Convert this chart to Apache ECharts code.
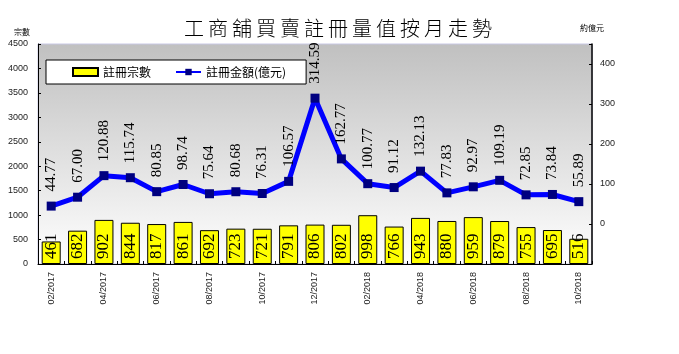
<!DOCTYPE html>
<html>
<head>
<meta charset="utf-8">
<script src="https://cdn.jsdelivr.net/npm/echarts@6/dist/echarts.min.js"></script>
<style>
  html,body{margin:0;padding:0;background:#fff;}
  #chart{width:679px;height:354px;}
</style>
</head>
<body>
<div id="chart"></div>
<script>
// months shown on the x axis
var months = ['02/2017','03/2017','04/2017','05/2017','06/2017','07/2017','08/2017','09/2017','10/2017','11/2017','12/2017','01/2018',
              '02/2018','03/2018','04/2018','05/2018','06/2018','07/2018','08/2018','09/2018','10/2018'];
// 註冊宗數 (bars, left axis)
var regCount = [461,682,902,844,817,861,692,723,721,791,806,802,998,766,943,880,959,879,755,695,516];
// 註冊金額(億元) (line, right axis)
var regAmount = [44.77,67.00,120.88,115.74,80.85,98.74,75.64,80.68,76.31,106.57,314.59,162.77,100.77,91.12,132.13,77.83,92.97,109.19,72.85,73.84,55.89];

var titleText = '工商舖買賣註冊量值按月走勢';

var myChart = echarts.init(document.getElementById('chart'));

var numFont = '"Liberation Serif","Times New Roman",serif';
var axisFont = '"Liberation Sans",Tahoma,sans-serif';
var cjkFont = '"Noto Sans CJK TC",sans-serif';

// spread the title characters a bit, like the original
var titleRich = titleText.split('').map(function(c){ return '{c|'+c+'}'; }).join('');

var option = {
    animation:false,
    backgroundColor:'#fff',
    title:{
        text:titleRich,
        left:333, top:13, textAlign:'center',
        textStyle:{
            rich:{c:{fontSize:20,fontWeight:300,color:'#000',fontFamily:cjkFont,padding:[0,2,0,2]}}
        }
    },
    legend:{
        left:46, top:60,
        padding:[6,20,6,26],
        itemGap:24,
        itemWidth:25, itemHeight:8,
        backgroundColor:'#fff', borderColor:'#000', borderWidth:1,
        textStyle:{fontSize:12,color:'#000',fontFamily:cjkFont},
        data:[
            {name:'註冊宗數',icon:'rect'},
            {name:'註冊金額(億元)'}
        ]
    },
    grid:{
        left:38, right:87, top:44, bottom:90,
        show:true, borderWidth:1, borderColor:'#c8c8e4',
        backgroundColor:new echarts.graphic.LinearGradient(0,0,0,1,[
            {offset:0,color:'#c0c0c0'},
            {offset:1,color:'#ffffff'}
        ])
    },
    xAxis:{
        type:'category',
        data:months,
        boundaryGap:true,
        axisLine:{lineStyle:{color:'#000',width:1}},
        axisTick:{show:true,inside:true,length:3,interval:0,lineStyle:{color:'#000'}},
        axisLabel:{interval:1,rotate:90,margin:8,fontSize:9,color:'#222',fontFamily:axisFont}
    },
    yAxis:[
        {
            type:'value', min:0, max:4500, interval:500,
            name:'宗數', nameLocation:'end', nameGap:8,
            nameTextStyle:{fontSize:8,color:'#000',align:'right',padding:[0,8,0,0],fontFamily:cjkFont},
            axisLine:{show:true,lineStyle:{color:'#000'}},
            axisTick:{show:true,inside:true,length:3,lineStyle:{color:'#000'}},
            axisLabel:{fontSize:9,color:'#222',margin:10,fontFamily:axisFont,
                formatter:function(v){ return String(v); }},
            splitLine:{show:false}
        },
        {
            type:'value', min:-100, max:450, interval:100, position:'right',
            name:'約億元', nameLocation:'end', nameGap:12,
            nameTextStyle:{fontSize:8,color:'#000',fontFamily:cjkFont},
            axisLine:{show:true,lineStyle:{color:'#000',width:1.5}},
            axisTick:{show:true,inside:true,length:3,lineStyle:{color:'#000'}},
            axisLabel:{fontSize:9,color:'#222',margin:8,fontFamily:axisFont,
                formatter:function(v){ return (v<0||v>400)?'':String(v); }},
            splitLine:{show:false}
        }
    ],
    series:[
        {
            name:'註冊宗數',
            type:'bar',
            yAxisIndex:0,
            data:regCount,
            barWidth:19,
            itemStyle:{color:'#ffff00',borderColor:'#000',borderWidth:1},
            label:{
                show:true, position:'insideBottom', rotate:90,
                align:'left', verticalAlign:'middle', distance:2, offset:[3,0],
                fontSize:17, lineHeight:17, color:'#000', fontFamily:numFont
            },
            z:2
        },
        {
            name:'註冊金額(億元)',
            type:'line',
            yAxisIndex:1,
            data:regAmount,
            symbol:'rect', symbolSize:9,
            lineStyle:{color:'#0000ff',width:5},
            itemStyle:{color:'#000080',borderWidth:0},
            label:{
                show:true, position:'top', rotate:90,
                align:'left', verticalAlign:'middle', distance:9, offset:[1,0],
                fontSize:15, lineHeight:15, color:'#000', fontFamily:numFont,
                formatter:function(p){ return p.value.toFixed(2); }
            },
            z:3
        }
    ]
};

myChart.setOption(option);
</script>
</body>
</html>
